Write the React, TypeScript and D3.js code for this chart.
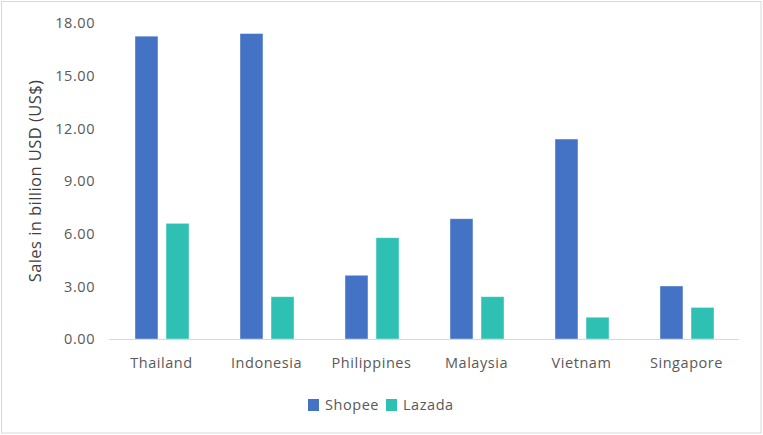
import React from 'react';
import * as d3 from 'd3';

const countries = ['Thailand', 'Indonesia', 'Philippines', 'Malaysia', 'Vietnam', 'Singapore'];
const seriesNames = ['Shopee', 'Lazada'];
const shopeeSales = [17.25, 17.4, 3.63, 6.85, 11.39, 3.02];
const lazadaSales = [6.59, 2.41, 5.77, 2.41, 1.24, 1.8];
const yTicks = [0, 3, 6, 9, 12, 15, 18];

const colors: Record<string, string> = { Shopee: '#4472C4', Lazada: '#2EC1B3' };
const W = 763;
const H = 435;
const font = '"Open Sans", "DejaVu Sans", sans-serif';
const labelSize = 14.5;
const labelSpacing = 0.55;

const App: React.FC = () => {
  const margin = { top: 23, right: 24, bottom: 96, left: 109 };
  const plotBottom = H - margin.bottom;

  const x = d3.scaleBand<string>().domain(countries).range([margin.left, W - margin.right]);
  // place the two bars inside each category band
  const x1 = d3.scaleBand<string>().domain(seriesNames).range([26, 80]).paddingInner(0.26);
  const y = d3.scaleLinear().domain([0, 18]).range([plotBottom, margin.top]);

  const rows = countries.map((c, i) => ({ country: c, values: [shopeeSales[i], lazadaSales[i]] }));
  const fmt = d3.format('.2f');

  return (
    <svg width={W} height={H} style={{ position: 'absolute', left: 0, top: 0 }} fontFamily={font}>
      <rect x={1.5} y={1.5} width={W - 3.5} height={H - 3.5} fill="#fff" stroke="#d9d9d9" />

      {yTicks.map(t => (
        <text
          key={t}
          x={95}
          y={y(t)}
          dy="0.36em"
          textAnchor="end"
          fontSize={labelSize}
          letterSpacing={labelSpacing}
          fill="#595959"
        >
          {fmt(t)}
        </text>
      ))}

      <text
        transform={`translate(41,181) rotate(-90)`}
        textAnchor="middle"
        fontSize={16.5}
        letterSpacing={0.45}
        fill="#404040"
      >
        Sales in billion USD (US$)
      </text>

      {rows.map(r => (
        <g key={r.country} transform={`translate(${x(r.country)},0)`}>
          {r.values.map((v, j) => (
            <rect
              key={seriesNames[j]}
              x={x1(seriesNames[j])}
              y={y(v)}
              width={x1.bandwidth()}
              height={plotBottom - y(v)}
              fill={colors[seriesNames[j]]}
              stroke="#ffffff"
              strokeOpacity={0.5}
              strokeWidth={0.8}
            />
          ))}
          <text
            x={x.bandwidth() / 2}
            y={367.5}
            textAnchor="middle"
            fontSize={labelSize}
            letterSpacing={labelSpacing}
            fill="#595959"
          >
            {r.country}
          </text>
        </g>
      ))}

      <line x1={margin.left} x2={W - margin.right} y1={plotBottom + 0.5} y2={plotBottom + 0.5} stroke="#d9d9d9" />

      <g transform="translate(308,399)">
        {seriesNames.map((s, i) => (
          <g key={s} transform={`translate(${i * 78},0)`}>
            <rect width={11} height={12} fill={colors[s]} />
            <text x={17} y={11} fontSize={labelSize} letterSpacing={labelSpacing} fill="#595959">
              {s}
            </text>
          </g>
        ))}
      </g>
    </svg>
  );
};

export default App;
